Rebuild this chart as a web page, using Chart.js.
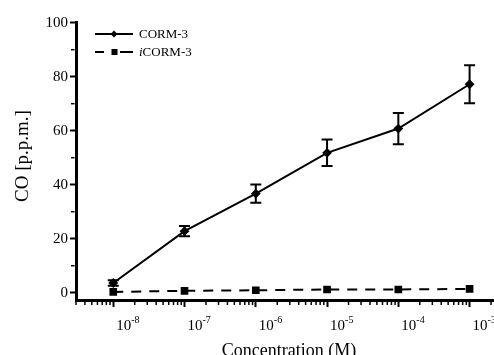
<!DOCTYPE html>
<html>
<head>
<meta charset="utf-8">
<script src="https://cdn.jsdelivr.net/npm/chart.js@4.4.1/dist/chart.umd.min.js"></script>
<style>
  html, body { margin: 0; padding: 0; background: #fff; }
  #wrap { width: 494px; height: 355px; }
</style>
</head>
<body>
<div id="wrap"><canvas id="grafico" width="494" height="355"></canvas></div>
<script>
// concentrações (M)
const concentracoes = [1e-8, 1e-7, 1e-6, 1e-5, 1e-4, 1e-3];
const expoentes = [-8, -7, -6, -5, -4, -3];

// CO [p.p.m.]
const corm3 = [3.6, 22.8, 36.7, 51.8, 60.8, 77.2];
const corm3Erro = [1.0, 1.9, 3.4, 4.9, 5.8, 7.0];
const icorm3 = [0.3, 0.7, 0.9, 1.2, 1.2, 1.4];

const yTicks = [0, 20, 40, 60, 80, 100];
const yMinor = [10, 30, 50, 70, 90];

const FONTE = '"Liberation Serif", "Times New Roman", serif';

const pontos = (ys) => concentracoes.map((x, i) => ({ x, y: ys[i] }));

// barras de erro, marcas secundárias e textos
const extras = {
  id: 'extras',
  beforeDatasetsDraw(chart) {
    const { ctx, scales: { x, y } } = chart;
    ctx.save();
    ctx.strokeStyle = '#000';
    ctx.lineWidth = 2;
    corm3.forEach((v, i) => {
      const px = x.getPixelForValue(concentracoes[i]);
      const top = y.getPixelForValue(v + corm3Erro[i]);
      const bot = y.getPixelForValue(v - corm3Erro[i]);
      ctx.beginPath();
      ctx.moveTo(px, top); ctx.lineTo(px, bot);
      ctx.moveTo(px - 5.5, top); ctx.lineTo(px + 5.5, top);
      ctx.moveTo(px - 5.5, bot); ctx.lineTo(px + 5.5, bot);
      ctx.stroke();
    });
    ctx.restore();
  },
  afterDraw(chart) {
    const { ctx, chartArea, scales: { x, y } } = chart;
    ctx.save();
    ctx.strokeStyle = '#000';
    ctx.fillStyle = '#000';

    // marcas menores do eixo x
    ctx.lineWidth = 1.5;
    const base = chartArea.bottom + 1.5;
    for (let e = -9; e <= -3; e++) {
      for (let k = 2; k <= 9; k++) {
        const v = k * Math.pow(10, e);
        if (v < x.min || v > x.max) continue;
        const px = x.getPixelForValue(v);
        ctx.beginPath();
        ctx.moveTo(px, base); ctx.lineTo(px, base + 3.5);
        ctx.stroke();
      }
    }
    // marcas menores do eixo y
    yMinor.forEach((v) => {
      const py = y.getPixelForValue(v);
      ctx.beginPath();
      ctx.moveTo(chartArea.left - 1.5, py); ctx.lineTo(chartArea.left - 5, py);
      ctx.stroke();
    });

    // rótulos do eixo x com expoente
    ctx.textBaseline = 'alphabetic';
    ctx.textAlign = 'left';
    concentracoes.forEach((v, i) => {
      const px = x.getPixelForValue(v) + 3;
      ctx.font = '15px ' + FONTE;
      ctx.fillText('10', px, 330);
      const w = ctx.measureText('10').width;
      ctx.font = '10px ' + FONTE;
      ctx.fillText(String(expoentes[i]), px + w, 323);
    });

    // títulos dos eixos
    ctx.font = '18px ' + FONTE;
    ctx.textAlign = 'center';
    ctx.fillText('Concentration (M)', 289, 356);
    ctx.save();
    ctx.translate(28, 156);
    ctx.rotate(-Math.PI / 2);
    ctx.font = '19px ' + FONTE;
    ctx.fillText('CO [p.p.m.]', 0, 0);
    ctx.restore();

    // legenda
    ctx.lineWidth = 2;
    ctx.beginPath();
    ctx.moveTo(95, 34); ctx.lineTo(133, 34);
    ctx.stroke();
    ctx.beginPath();
    ctx.moveTo(114, 30.5); ctx.lineTo(117.5, 34); ctx.lineTo(114, 37.5); ctx.lineTo(110.5, 34);
    ctx.closePath(); ctx.fill();
    ctx.beginPath();
    ctx.moveTo(95, 52); ctx.lineTo(104, 52);
    ctx.moveTo(120, 52); ctx.lineTo(133, 52);
    ctx.stroke();
    ctx.fillRect(111.5, 49, 6, 6);

    ctx.textAlign = 'left';
    ctx.textBaseline = 'middle';
    ctx.font = '13px ' + FONTE;
    ctx.fillText('CORM-3', 139, 35);
    ctx.font = 'italic 13px ' + FONTE;
    ctx.fillText('i', 139, 53);
    const wi = ctx.measureText('i').width;
    ctx.font = '13px ' + FONTE;
    ctx.fillText('CORM-3', 139 + wi, 53);
    ctx.restore();
  }
};

const config = {
  type: 'line',
  data: {
    datasets: [
      {
        label: 'CORM-3',
        data: pontos(corm3),
        borderColor: '#000',
        backgroundColor: '#000',
        borderWidth: 2,
        pointStyle: 'rectRot',
        pointRadius: 3.5,
        tension: 0
      },
      {
        label: 'iCORM-3',
        data: pontos(icorm3),
        borderColor: '#000',
        backgroundColor: '#000',
        borderWidth: 2,
        borderDash: [10, 8],
        pointStyle: 'rect',
        pointRadius: 4,
        tension: 0
      }
    ]
  },
  options: {
    responsive: false,
    animation: false,
    layout: { autoPadding: false, padding: { left: 0, right: 0, top: 22.7, bottom: 0 } },
    scales: {
      x: {
        type: 'logarithmic',
        min: 3e-9,
        max: 2.2e-3,
        afterBuildTicks: (scale) => {
          scale.ticks = concentracoes.map((v) => ({ value: v, major: true }));
        },
        afterFit: (scale) => { scale.height = 55; },
        ticks: { display: false },
        grid: { drawOnChartArea: false, drawTicks: true, tickLength: 7, tickWidth: 2, tickColor: '#000' },
        border: { display: true, color: '#000', width: 3 }
      },
      y: {
        min: -2.7,
        max: 100,
        afterBuildTicks: (scale) => {
          scale.ticks = yTicks.map((v) => ({ value: v }));
        },
        afterFit: (scale) => { scale.width = 76; },
        ticks: { color: '#000', padding: 2, font: { family: FONTE, size: 15 } },
        grid: { drawOnChartArea: false, drawTicks: true, tickLength: 6, tickWidth: 2, tickColor: '#000' },
        border: { display: true, color: '#000', width: 3 }
      }
    },
    plugins: {
      legend: { display: false },
      tooltip: { enabled: false }
    }
  },
  plugins: [extras]
};

window._grafico = new Chart(document.getElementById('grafico').getContext('2d'), config);
</script>
</body>
</html>
